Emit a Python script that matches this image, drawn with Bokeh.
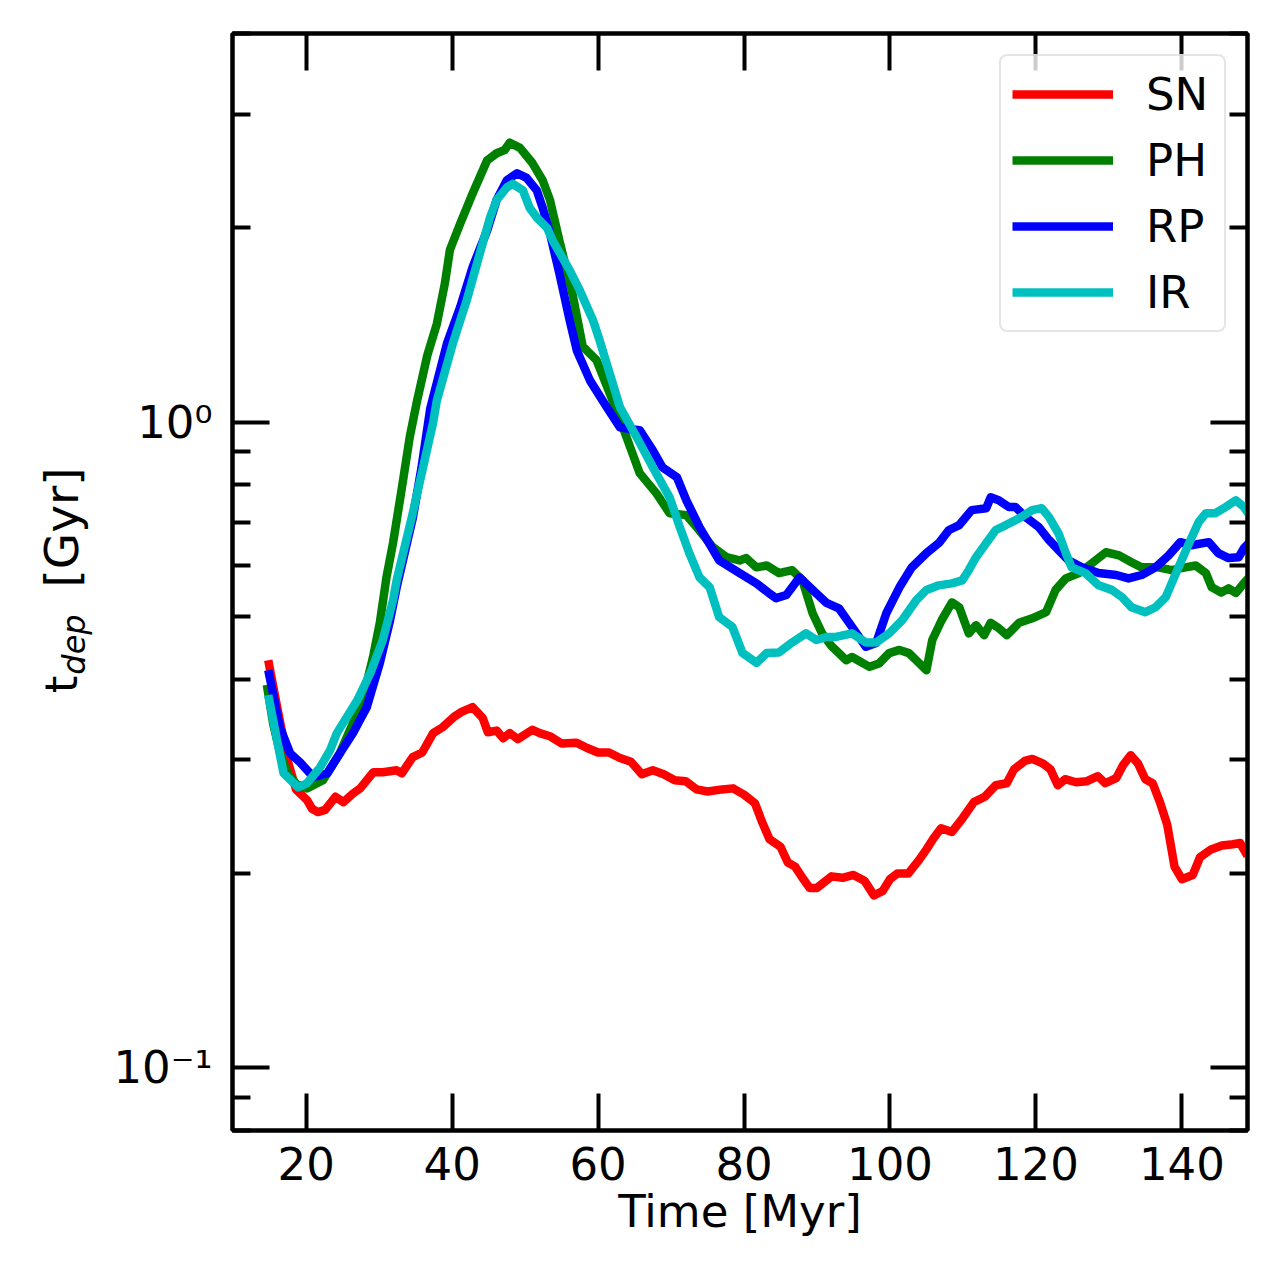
from bokeh.plotting import figure
from bokeh.layouts import row
from bokeh.models import (Range1d, FixedTicker, LinearAxis, LogAxis, Legend,
                          LegendItem, CustomJSTickFormatter)
from bokeh.core.properties import value
from bokeh.embed import file_html
from bokeh.resources import INLINE

# ---------------- data ----------------
sn_t = [14.8, 16.0, 17.5, 18.6, 20.1, 20.8, 21.6, 22.6, 24.0, 25.1, 26.4, 27.4, 29.2, 30.5,
        32.4, 33.1, 34.6, 35.9, 37.4, 38.7, 40.3, 41.3, 42.8, 44.2, 44.9, 46.1, 47.0, 47.9,
        49.0, 51.0, 52.0, 53.5, 55.0, 57.0, 58.5, 60.0, 61.5, 63.0, 64.5, 66.0, 67.5, 69.0,
        70.5, 72.0, 73.5, 75.0, 77.0, 78.5, 80.0, 81.5, 82.5, 83.5, 85.0, 86.0, 87.0, 88.0,
        89.0, 90.0, 91.0, 92.0, 93.5, 95.0, 96.5, 97.8, 99.0, 100.0, 101.0, 102.5, 104.0,
        105.0, 106.0, 107.0, 108.5, 110.0, 111.5, 113.0, 114.5, 116.0, 117.0, 118.5, 119.5,
        121.0, 122.0, 123.0, 124.0, 125.5, 127.0, 128.5, 129.5, 131.0, 132.0, 133.0, 134.0,
        135.0, 136.0, 137.0, 138.0, 139.0, 140.0, 141.5, 142.5, 144.0, 145.5, 147.0, 148.0, 149.0]
sn_v = [0.428, 0.363, 0.298, 0.270, 0.260, 0.252, 0.249, 0.251, 0.263, 0.258, 0.266, 0.271,
        0.287, 0.287, 0.289, 0.286, 0.303, 0.308, 0.330, 0.337, 0.350, 0.356, 0.362, 0.348,
        0.331, 0.333, 0.324, 0.330, 0.323, 0.334, 0.330, 0.326, 0.318, 0.319, 0.313, 0.308,
        0.308, 0.302, 0.298, 0.285, 0.289, 0.285, 0.279, 0.278, 0.270, 0.268, 0.270, 0.271,
        0.265, 0.257, 0.240, 0.226, 0.220, 0.208, 0.205, 0.197, 0.190, 0.190, 0.194, 0.198,
        0.197, 0.199, 0.195, 0.185, 0.188, 0.196, 0.200, 0.200, 0.210, 0.218, 0.227, 0.235,
        0.232, 0.244, 0.258, 0.263, 0.274, 0.276, 0.290, 0.299, 0.301, 0.296, 0.290, 0.274,
        0.280, 0.277, 0.278, 0.283, 0.276, 0.281, 0.295, 0.305, 0.296, 0.280, 0.276, 0.258,
        0.238, 0.205, 0.196, 0.199, 0.212, 0.218, 0.221, 0.222, 0.223, 0.213]

ph_t = [14.6, 15.5, 16.5, 17.5, 18.7, 20.1, 22.3, 24.6, 26.4, 28.3, 29.2, 30.1, 31.0, 31.9,
        33.1, 34.2, 35.2, 36.6, 37.9, 39.0, 39.7, 41.1, 42.8, 44.8, 46.1, 47.2, 47.9, 49.3,
        51.0, 52.4, 53.4, 54.7, 56.5, 57.9, 59.8, 62.0, 63.4, 65.7, 68.0, 69.8, 72.1, 73.5,
        75.7, 77.6, 79.4, 80.3, 81.7, 83.1, 84.8, 86.6, 88.0, 89.4, 90.7, 92.0, 93.0, 94.0,
        94.8, 97.2, 98.5, 99.9, 101.3, 102.6, 103.6, 105.0, 105.8, 107.1, 108.5, 109.5, 110.8,
        111.8, 112.9, 113.8, 114.9, 116.0, 117.7, 119.5, 121.4, 122.7, 124.1, 125.9, 127.7,
        129.6, 131.4, 133.1, 134.5, 136.8, 138.6, 140.5, 141.9, 143.3, 144.1, 145.4, 146.4,
        147.4, 148.5, 149.2]
ph_v = [0.392, 0.340, 0.305, 0.285, 0.275, 0.271, 0.279, 0.307, 0.342, 0.395, 0.435, 0.490,
        0.575, 0.650, 0.790, 0.950, 1.080, 1.270, 1.420, 1.640, 1.850, 2.030, 2.260, 2.545,
        2.610, 2.640, 2.710, 2.660, 2.520, 2.370, 2.210, 1.910, 1.580, 1.310, 1.247, 1.080,
        0.982, 0.834, 0.776, 0.723, 0.718, 0.688, 0.641, 0.618, 0.611, 0.616, 0.596, 0.600,
        0.584, 0.590, 0.569, 0.506, 0.471, 0.450, 0.439, 0.428, 0.433, 0.418, 0.423, 0.439,
        0.444, 0.439, 0.428, 0.413, 0.460, 0.494, 0.526, 0.517, 0.471, 0.485, 0.468, 0.489,
        0.480, 0.468, 0.489, 0.497, 0.508, 0.550, 0.573, 0.584, 0.605, 0.629, 0.622, 0.607,
        0.596, 0.596, 0.590, 0.596, 0.600, 0.584, 0.555, 0.545, 0.553, 0.544, 0.563, 0.575]

rp_t = [14.8, 16.4, 17.8, 19.2, 21.0, 22.9, 24.6, 26.4, 28.3, 30.1, 31.5, 32.4, 34.6, 35.8,
        37.0, 39.3, 41.1, 42.8, 44.8, 46.1, 47.5, 48.9, 50.2, 51.6, 52.4, 53.4, 54.7, 56.1,
        57.1, 58.9, 61.2, 63.0, 64.5, 65.7, 67.5, 68.8, 70.8, 72.1, 73.9, 76.6, 79.4, 81.7,
        83.3, 84.4, 85.8, 87.6, 89.4, 91.3, 93.0, 94.8, 96.7, 98.1, 99.5, 101.3, 103.0, 105.0,
        106.7, 108.1, 109.5, 111.2, 113.2, 113.8, 114.9, 116.3, 117.2, 118.6, 120.4, 121.8,
        123.1, 124.5, 126.3, 128.6, 131.0, 132.7, 134.5, 136.4, 138.2, 139.8, 141.3, 143.7,
        145.0, 146.4, 147.8, 148.5, 149.2]
rp_v = [0.413, 0.337, 0.307, 0.297, 0.282, 0.286, 0.307, 0.330, 0.362, 0.424, 0.494, 0.555,
        0.710, 0.850, 1.050, 1.325, 1.507, 1.738, 1.982, 2.210, 2.370, 2.430, 2.390, 2.286,
        2.150, 1.962, 1.700, 1.439, 1.290, 1.160, 1.055, 0.982, 0.975, 0.972, 0.905, 0.852,
        0.822, 0.757, 0.688, 0.611, 0.584, 0.563, 0.545, 0.534, 0.540, 0.575, 0.550, 0.525,
        0.515, 0.482, 0.449, 0.455, 0.506, 0.555, 0.596, 0.627, 0.650, 0.681, 0.693, 0.731,
        0.736, 0.765, 0.757, 0.739, 0.739, 0.713, 0.688, 0.657, 0.634, 0.611, 0.596, 0.584,
        0.580, 0.573, 0.580, 0.596, 0.622, 0.652, 0.645, 0.652, 0.627, 0.616, 0.618, 0.638,
        0.650]

ir_t = [14.8, 16.0, 16.9, 18.9, 20.1, 21.9, 23.3, 24.2, 25.6, 27.0, 28.8, 30.5, 31.9, 32.4,
        34.6, 37.4, 37.9, 40.1, 42.0, 43.8, 45.2, 46.1, 47.5, 48.3, 49.7, 50.6, 51.6, 53.0,
        53.8, 56.1, 57.5, 59.3, 60.2, 63.0, 65.3, 67.5, 69.8, 71.2, 72.5, 73.9, 75.3, 76.6,
        78.4, 79.8, 81.7, 83.1, 84.8, 86.6, 88.5, 89.9, 91.3, 92.6, 94.8, 96.7, 98.1, 99.9,
        101.7, 103.6, 105.0, 106.7, 108.5, 109.9, 110.8, 111.8, 113.2, 114.5, 115.9, 117.7,
        119.5, 120.8, 121.8, 123.1, 124.1, 124.9, 126.8, 128.6, 130.4, 131.8, 133.1, 135.0,
        136.4, 137.8, 139.2, 141.0, 142.3, 143.3, 144.6, 146.0, 147.4, 148.5, 149.2]
ir_v = [0.378, 0.322, 0.286, 0.272, 0.276, 0.292, 0.311, 0.330, 0.350, 0.371, 0.409, 0.460,
        0.530, 0.569, 0.723, 1.000, 1.080, 1.325, 1.545, 1.827, 2.076, 2.210, 2.310, 2.340,
        2.286, 2.150, 2.076, 2.000, 1.910, 1.720, 1.600, 1.439, 1.340, 1.055, 0.948, 0.852,
        0.765, 0.688, 0.627, 0.575, 0.555, 0.499, 0.482, 0.439, 0.424, 0.439, 0.440, 0.456,
        0.471, 0.460, 0.465, 0.465, 0.471, 0.456, 0.456, 0.471, 0.494, 0.530, 0.550, 0.559,
        0.563, 0.569, 0.590, 0.618, 0.650, 0.681, 0.693, 0.710, 0.731, 0.736, 0.713, 0.673,
        0.627, 0.596, 0.584, 0.559, 0.550, 0.536, 0.517, 0.508, 0.517, 0.536, 0.584, 0.650,
        0.700, 0.723, 0.723, 0.739, 0.757, 0.739, 0.720]

series_names = ["SN", "PH", "RP", "IR"]
series_colors = ["#ff0000", "#008000", "#0000ff", "#00bfbf"]

x_ticks = [20, 40, 60, 80, 100, 120, 140]
y_major = [0.1, 1.0]
y_major_labels = ["10\u207b\u00b9", "10\u2070"]
y_minor = [0.08, 0.09, 0.2, 0.3, 0.4, 0.5, 0.6, 0.7, 0.8, 0.9, 2.0, 3.0, 4.0]
x_lim = (9.9, 149.0)
y_lim = (0.08, 4.0)
x_title = "Time [Myr]"
y_title_parts = ["t", "dep", "[Gyr]"]

FONT = "DejaVu Sans"
FS = "45px"
FW, FH = 1015, 1097
TOP, BOTTOM = 33, 120
LW = 110          # width of the side strip holding the y-axis title

# ---------------- main plot ----------------
p = figure(frame_width=FW, frame_height=FH,
           x_range=Range1d(*x_lim), y_range=Range1d(*y_lim), y_axis_type="log",
           output_backend="svg", toolbar_location=None,
           min_border_left=232 - LW, min_border_top=TOP, min_border_right=12,
           min_border_bottom=BOTTOM,
           background_fill_color="white", border_fill_color="white")
p.grid.visible = False
p.outline_line_color = "black"
p.outline_line_width = 4

# mirrored axes
p.add_layout(LinearAxis(), "above")
p.add_layout(LogAxis(), "right")


def style_axis(ax):
    ax.axis_line_width = 4
    ax.axis_line_color = "black"
    ax.major_tick_line_width = 4
    ax.minor_tick_line_width = 4
    ax.major_tick_line_color = "black"
    ax.minor_tick_line_color = "black"
    ax.major_tick_in = 37
    ax.major_tick_out = 0
    ax.minor_tick_in = 18
    ax.minor_tick_out = 0
    ax.major_label_text_font = FONT
    ax.major_label_text_font_size = FS
    ax.major_label_text_color = "black"


for ax in p.xaxis:
    style_axis(ax)
    ax.ticker = FixedTicker(ticks=x_ticks, minor_ticks=[])
for ax in p.yaxis:
    style_axis(ax)
    ax.ticker = FixedTicker(ticks=y_major, minor_ticks=y_minor)

blank = CustomJSTickFormatter(code="return ''")
p.above[0].formatter = blank
p.right[0].formatter = blank

bx = p.below[0]
bx.major_label_standoff = 16
bx.axis_label = x_title
bx.axis_label_text_font = FONT
bx.axis_label_text_font_size = FS
bx.axis_label_text_font_style = "normal"
bx.axis_label_text_color = "black"
bx.axis_label_standoff = 2

ly = p.left[0]
ly.major_label_standoff = 20
ly.major_label_overrides = {v: s for v, s in zip(y_major, y_major_labels)}

renderers = []
for (t, v, c) in [(sn_t, sn_v, series_colors[0]), (ph_t, ph_v, series_colors[1]),
                  (rp_t, rp_v, series_colors[2]), (ir_t, ir_v, series_colors[3])]:
    r = p.line(t, v, line_color=c, line_width=8.5, line_join="round")
    renderers.append(r)

legend = Legend(items=[LegendItem(label=n, renderers=[r]) for n, r in zip(series_names, renderers)],
                location="top_right", margin=21, padding=11, spacing=12,
                glyph_width=101, glyph_height=54, label_height=54, label_width=67,
                label_standoff=33,
                label_text_font=FONT, label_text_font_size=FS, label_text_color="black",
                border_line_color="#cccccc", border_line_width=2,
                background_fill_color="white", background_fill_alpha=0.8)
if "border_radius" in legend.properties():
    legend.border_radius = 8
p.add_layout(legend)

# ---------------- side strip with the y-axis title ----------------
# Its frame has the same vertical extent as the main frame; the y range is in
# pixels measured upward from the frame's bottom edge.
side = figure(frame_width=LW, frame_height=FH, title=None,
              x_range=Range1d(0, LW), y_range=Range1d(0, FH),
              output_backend="svg", toolbar_location=None,
              min_border_left=0, min_border_right=0,
              min_border_top=TOP, min_border_bottom=BOTTOM,
              x_axis_type=None, y_axis_type=None,
              background_fill_color="white", border_fill_color="white")
side.outline_line_color = None
side.grid.visible = False
FRAME_BOTTOM_PAGE = TOP + FH + 1
# centre of each piece: pixels from the strip's left edge, and from the page top
title_pieces = [(y_title_parts[0], 61, 685, FS, "normal"),
                (y_title_parts[1], 73, 645, "32px", "italic"),
                (y_title_parts[2], 61, 528, "47px", "normal")]
for txt, px, py, fs, style in title_pieces:
    side.text(x=[px], y=[FRAME_BOTTOM_PAGE - py], text=[txt], angle=90, angle_units="deg",
              text_font=value(FONT), text_font_size=value(fs), text_font_style=style,
              text_align="center", text_baseline="middle", text_color="black")

layout = row(side, p)
open("out.html", "w").write(file_html(layout, INLINE))
